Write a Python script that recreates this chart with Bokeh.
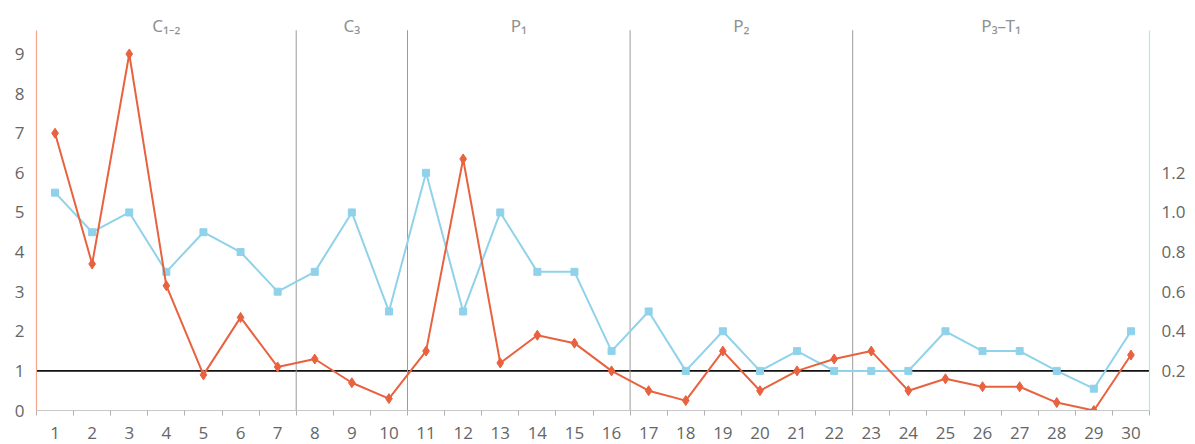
from bokeh.plotting import figure
from bokeh.models import (Range1d, LinearAxis, FixedTicker, Span, ColumnDataSource,
                          CustomJSTickFormatter)
from bokeh.core.properties import value
from bokeh.embed import file_html
from bokeh.resources import INLINE

# ---- data ----
samples = list(range(1, 31))
red_vals = [7.0, 3.7, 9.0, 3.15, 0.9, 2.35, 1.1, 1.3, 0.7, 0.3,
            1.5, 6.35, 1.2, 1.9, 1.7, 1.0, 0.5, 0.25, 1.5, 0.5,
            1.0, 1.3, 1.5, 0.5, 0.8, 0.6, 0.6, 0.2, 0.0, 1.4]
blue_vals = [1.1, 0.9, 1.0, 0.7, 0.9, 0.8, 0.6, 0.7, 1.0, 0.5,
             1.2, 0.5, 1.0, 0.7, 0.7, 0.3, 0.5, 0.2, 0.4, 0.2,
             0.3, 0.2, 0.2, 0.2, 0.4, 0.3, 0.3, 0.2, 0.11, 0.4]
periods = ["C\u2081\u208b\u2082", "C\u2083", "P\u2081", "P\u2082", "P\u2083\u2013T\u2081"]
period_first = [1, 8, 11, 17, 23]
period_last = [7, 10, 16, 22, 30]
left_ticks = [0, 1, 2, 3, 4, 5, 6, 7, 8, 9]
right_ticks = [0.2, 0.4, 0.6, 0.8, 1.0, 1.2]
ref_level = 1

RED = "#e8623f"
BLUE = "#8fd2ea"
TICK_FONT = "Open Sans"
TICK_COLOR = "#666666"

y_top = 10.35
axis_top = 9.6

p = figure(width=1195, height=444, output_backend="svg", toolbar_location=None,
           x_range=Range1d(0.5, 30.5), y_range=Range1d(0, y_top),
           min_border_left=36, min_border_right=46, min_border_top=0, min_border_bottom=34)
p.extra_y_ranges = {"right": Range1d(0, y_top / 5)}
p.outline_line_color = None
p.xgrid.visible = False
p.ygrid.visible = False
p.background_fill_color = "white"
p.border_fill_color = "white"

# x axis
xa = p.xaxis[0]
xa.ticker = FixedTicker(ticks=samples, minor_ticks=[s - 0.5 for s in samples] + [30.5])
xa.axis_line_color = "#c8c8c8"
xa.axis_line_width = 1
xa.major_tick_line_color = None
xa.major_tick_out = 0
xa.major_tick_in = 0
xa.minor_tick_line_color = "#b0b0b0"
xa.minor_tick_out = 5
xa.minor_tick_in = 0
xa.major_label_standoff = 11
xa.major_label_text_font = TICK_FONT
xa.major_label_text_font_size = "17px"
xa.major_label_text_color = TICK_COLOR

# left axis
ya = p.yaxis[0]
ya.ticker = FixedTicker(ticks=left_ticks)
ya.bounds = (0, axis_top)
ya.axis_line_color = "#f2a68c"
ya.axis_line_width = 1.2
ya.major_tick_line_color = None
ya.major_tick_out = 0
ya.major_tick_in = 0
ya.minor_tick_line_color = None
ya.major_label_standoff = 12
ya.major_label_text_font = TICK_FONT
ya.major_label_text_font_size = "17px"
ya.major_label_text_color = TICK_COLOR

# right axis
ra = LinearAxis(y_range_name="right", ticker=FixedTicker(ticks=right_ticks),
                bounds=(0, axis_top / 5))
ra.formatter = CustomJSTickFormatter(code="return tick.toFixed(1);")
ra.axis_line_color = "#b8e6e6"
ra.axis_line_width = 1.2
ra.major_tick_line_color = None
ra.major_tick_out = 0
ra.major_tick_in = 0
ra.minor_tick_line_color = None
ra.major_label_standoff = 12
ra.major_label_text_font = TICK_FONT
ra.major_label_text_font_size = "17px"
ra.major_label_text_color = TICK_COLOR
p.add_layout(ra, "right")

# period separators
sep_x = [f - 0.5 for f in period_first[1:]]
p.segment(x0=sep_x, y0=[0] * len(sep_x), x1=sep_x, y1=[axis_top] * len(sep_x),
          line_color="#9a9a9a", line_width=1)

# reference line at 1
p.add_layout(Span(location=ref_level, dimension="width", line_color="#111111",
                  line_width=1.6, level="underlay"))

# period labels
centers = [(a + b) / 2 for a, b in zip(period_first, period_last)]
p.text(x=centers, y=[9.72] * len(centers), text=periods,
       text_font=value("Noto Sans"), text_font_size="17px", text_color="#909090",
       text_align="center", text_baseline="middle")

# series
src = ColumnDataSource(dict(x=samples, red=red_vals, blue=blue_vals))
p.line("x", "blue", source=src, y_range_name="right", line_color=BLUE, line_width=2)
p.scatter("x", "blue", source=src, y_range_name="right", marker="square", size=7,
          fill_color=BLUE, line_color=BLUE)
p.line("x", "red", source=src, line_color=RED, line_width=2)
p.scatter("x", "red", source=src, marker="diamond", size=10,
          fill_color=RED, line_color=RED)

open("out.html", "w").write(file_html(p, INLINE))
